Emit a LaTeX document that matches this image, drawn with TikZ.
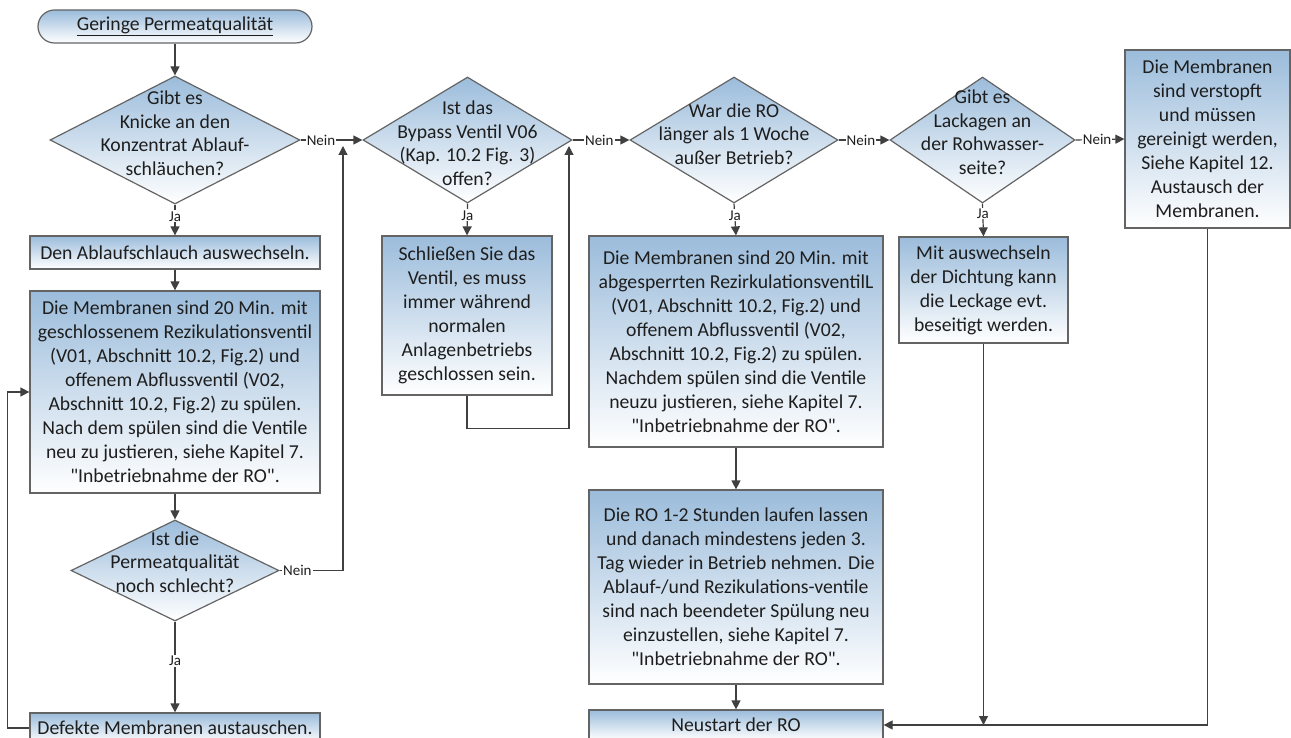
\documentclass[tikz,border=0pt]{standalone}
\usepackage{fontspec}
\setmainfont{Carlito}
\usetikzlibrary{arrows.meta,shapes.geometric}

\definecolor{fillblue}{RGB}{155,188,219}
\definecolor{edgegray}{RGB}{100,100,100}
\definecolor{linegray}{RGB}{64,64,64}
\definecolor{txt}{RGB}{30,30,30}

\newcommand{\dq}{\textquotedbl}

\tikzset{
  base/.style={draw=edgegray, line width=1.2pt, top color=fillblue, bottom color=white,
    text=txt, font=\fontsize{19.7}{24}\selectfont, align=center, inner sep=0pt},
  proc/.style={base, rectangle},
  term/.style={base, rectangle, rounded corners=16.5pt},
  decide/.style={base, diamond},
  dtext/.style={text=txt, font=\fontsize{19.7}{23.5}\selectfont, align=center, inner sep=0pt},
  conn/.style={draw=linegray, line width=1.2pt, -{Triangle[length=9pt,width=9pt]}},
  lab/.style={fill=white, inner sep=1pt, text=txt, font=\fontsize{15}{18}\selectfont},
}

\begin{document}
\begin{tikzpicture}[x=1pt,y=-1pt]
\useasboundingbox (0,0) rectangle (1291,738);
\clip (0,0) rectangle (1291,738);

% ---- left column
\node[term, minimum width=274pt, minimum height=33pt] (start) at (175,26.5) {\underline{Geringe Permeatqualität}};

\node[decide, minimum width=250pt, minimum height=128pt] (d1) at (175,140) {};
\node[dtext] (d1t) at (175,133) {Gibt es\\Knicke an den\\Konzentrat Ablauf-\\schläuchen?};

\node[proc, minimum width=290pt, minimum height=33pt] (b1) at (175,252.5) {Den Ablaufschlauch auswechseln.};

\node[proc, minimum width=290pt, minimum height=202pt] (b2) at (175,392) {Die Membranen sind 20 Min. mit\\geschlossenem Rezikulationsventil\\(V01, Abschnitt 10.2, Fig.2) und\\offenem Abflussventil (V02,\\Abschnitt 10.2, Fig.2) zu spülen.\\Nach dem spülen sind die Ventile\\neu zu justieren, siehe Kapitel 7.\\\dq Inbetriebnahme der RO\dq.};

\node[decide, minimum width=208pt, minimum height=101pt] (d3) at (175,570.5) {};
\node[dtext] (d3t) at (175,562) {Ist die\\Permeatqualität\\noch schlecht?};

\node[proc, minimum width=290pt, minimum height=30pt] (b3) at (175,728) {Defekte Membranen austauschen.};

% ---- second column
\node[decide, minimum width=209pt, minimum height=126pt] (d2) at (467.5,140) {};
\node[dtext] (d2t) at (467.5,143) {Ist das\\Bypass Ventil V06\\(Kap. 10.2 Fig. 3)\\offen?};

\node[proc, minimum width=170pt, minimum height=159pt] (b4) at (467,315.5) {Schließen Sie das\\Ventil, es muss\\immer während\\normalen\\Anlagenbetriebs\\geschlossen sein.};

% ---- third column
\node[decide, minimum width=208pt, minimum height=126pt] (d4) at (734,140) {};
\node[dtext] (d4t) at (734,134) {War die RO\\länger als 1 Woche\\außer Betrieb?};

\node[proc, minimum width=294pt, minimum height=211pt] (b5) at (736,341.5) {Die Membranen sind 20 Min. mit\\abgesperrten RezirkulationsventilL\\(V01, Abschnitt 10.2, Fig.2) und\\offenem Abflussventil (V02,\\Abschnitt 10.2, Fig.2) zu spülen.\\Nachdem spülen sind die Ventile\\neuzu justieren, siehe Kapitel 7.\\\dq Inbetriebnahme der RO\dq.};

\node[proc, minimum width=294pt, minimum height=194pt] (b6) at (736,587) {Die RO 1-2 Stunden laufen lassen\\und danach mindestens jeden 3.\\Tag wieder in Betrieb nehmen. Die\\Ablauf-/und Rezikulations-ventile\\sind nach beendeter Spülung neu\\einzustellen, siehe Kapitel 7.\\\dq Inbetriebnahme der RO\dq.};

\node[proc, minimum width=294pt, minimum height=30pt] (b7) at (736,725) {Neustart der RO};

% ---- fourth column
\node[decide, minimum width=185pt, minimum height=126pt] (d5) at (982.5,140) {};
\node[dtext] (d5t) at (982.5,132) {Gibt es\\Lackagen an\\der Rohwasser-\\seite?};

\node[proc, minimum width=169pt, minimum height=106pt] (b8) at (983.5,290) {Mit auswechseln\\der Dichtung kann\\die Leckage evt.\\beseitigt werden.};

% ---- fifth column
\node[proc, minimum width=165pt, minimum height=178pt] (b9) at (1207.5,139) {Die Membranen\\sind verstopft\\und müssen\\gereinigt werden,\\Siehe Kapitel 12.\\Austausch der\\Membranen.};

% ---- connectors
\coordinate (m1) at (343,146);
\coordinate (m2) at (569,146);
\coordinate (m3) at (b8.south |- b7.east);

\draw[conn] (start.south) -- (d1.north);
\draw[conn] (d1.south) -- node[lab,pos=0.38]{Ja} (b1.north);
\draw[conn] (b1.south) -- (b2.north);
\draw[conn] (b2.south) -- (d3.north);
\draw[conn] (d3.south) -- node[lab,pos=0.43]{Ja} (b3.north);
\draw[conn] (b3.west) -- ++(-22,0) |- (b2.west);
\draw[conn] (d3.east) -- node[lab,pos=0.28]{Nein} (d3.east -| m1) -- (m1);

\draw[conn] (d1.east) -- node[lab,pos=0.33]{Nein} (d2.west);
\draw[conn] (d2.south) -- node[lab,pos=0.37]{Ja} (b4.north);
\draw[conn] (b4.south) -- ++(0,33) -| (m2);

\draw[conn] (d2.east) -- node[lab,pos=0.47]{Nein} (d4.west);
\draw[conn] (d4.south) -- node[lab,pos=0.37]{Ja} (b5.north);
\draw[conn] (b5.south) -- (b6.north);
\draw[conn] (b6.south) -- (b7.north);

\draw[conn] (d4.east) -- node[lab,pos=0.44]{Nein} (d5.west);
\draw[conn] (d5.south) -- node[lab,pos=0.3]{Ja} (b8.north);
\draw[conn] (b8.south) -- (m3);

\draw[conn] (d5.east) -- node[lab,pos=0.44]{Nein} (b9.west);
\draw[conn] (b9.south) |- (b7.east);
\end{tikzpicture}
\end{document}
